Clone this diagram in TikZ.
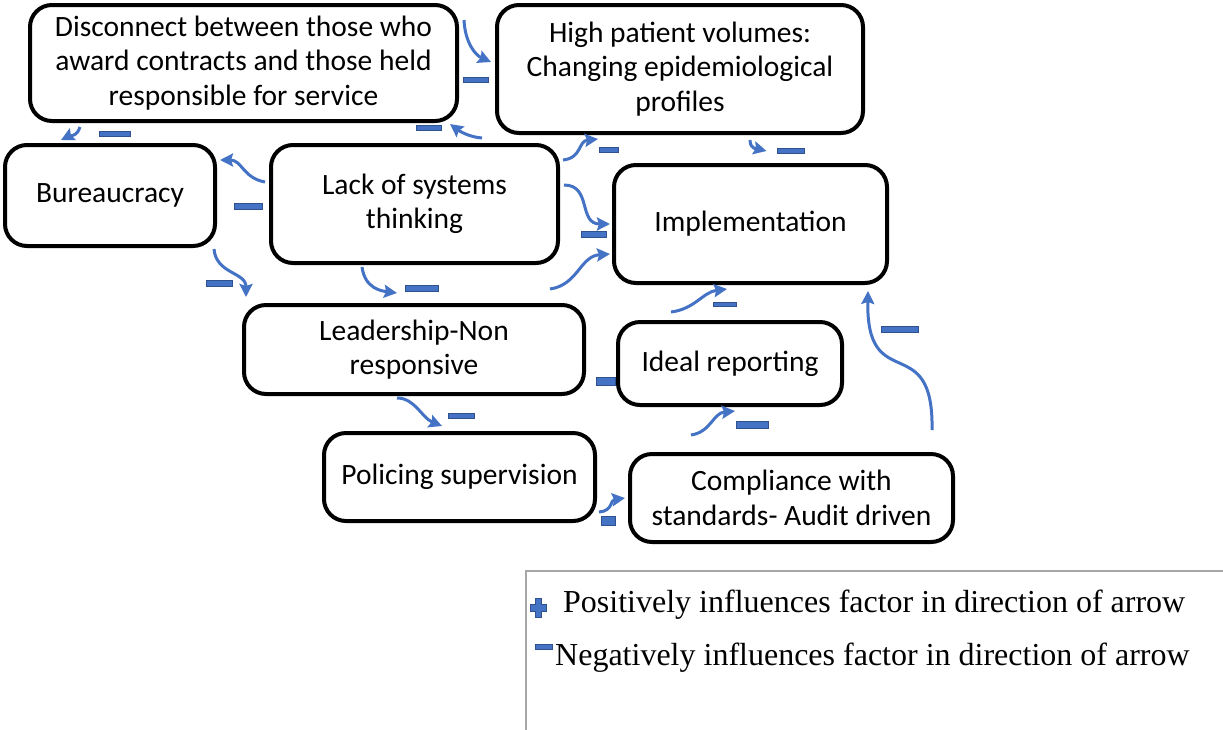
\documentclass[tikz,border=0pt]{standalone}
\usepackage{fontspec}
\setmainfont{Liberation Serif}
\newfontfamily\boxfont{Carlito}
\usetikzlibrary{arrows.meta,calc}
\definecolor{linkblue}{HTML}{4472C4}
\definecolor{barborder}{HTML}{2F528F}
\definecolor{legendgray}{HTML}{A6A6A6}
\tikzset{
  factor/.style={draw=black, line width=4pt, rounded corners=22pt, fill=white,
    align=center, inner sep=0pt, font={\boxfont\fontsize{29.5}{34.5}\selectfont}},
  link/.style={draw=linkblue, line width=3pt,
    -{Stealth[length=13pt,width=13pt,inset=2pt]}},
  minusbar/.style={draw=barborder, line width=0.6pt, fill=linkblue,
    inner sep=0pt, rectangle},
  legendtext/.style={anchor=base west, inner sep=0pt,
    font={\fontsize{32}{38}\selectfont}}
}
\begin{document}
\begin{tikzpicture}[x=1pt,y=-1pt]
\useasboundingbox (0,0) rectangle (1223,729);
\fill[white] (0,0) rectangle (1223,729);

% factors
\node[factor, minimum width=427pt, minimum height=116pt] (dis) at (243.5,63)
  {Disconnect between those who\\award contracts and those held\\responsible for service};
\node[factor, minimum width=366pt, minimum height=128pt] (hp) at (680,69)
  {High patient volumes:\\Changing epidemiological\\profiles};
\node[factor, minimum width=210pt, minimum height=101pt] (bur) at (110,195.5)
  {Bureaucracy};
\node[factor, minimum width=287pt, minimum height=118pt] (lack) at (414.5,204)
  {Lack of systems\\thinking};
\node[factor, minimum width=273pt, minimum height=118pt] (imp) at (750.5,224)
  {Implementation};
\node[factor, minimum width=340pt, minimum height=89pt] (lead) at (414,349.5)
  {Leadership-Non\\responsive};
\node[factor, minimum width=224pt, minimum height=83pt] (ideal) at (730,363.5)
  {Ideal reporting};
\node[factor, minimum width=271pt, minimum height=88pt] (pol) at (459.5,477)
  {Policing supervision};
\node[factor, minimum width=323pt, minimum height=88pt] (comp) at (791.5,498)
  {Compliance with\\standards- Audit driven};

% connectors
\draw[link] ($(dis.north east)+(5,17)$) .. controls +(1,22) and +(-16,-7) .. ($(hp.north west)+(-4,59)$);
\draw[link] ($(dis.south west)+(52,4)$) .. controls +(-3,10) and +(8,-4) .. ($(bur.north west)+(58,-3)$);
\draw[link] ($(lack.north east)+(-78,-5)$) .. controls +(-14,-1) and +(8,6) .. ($(dis.south east)+(-9,1)$);
\draw[link] ($(lack.north east)+(3,17)$) .. controls +(19,-2) and +(-20,2) .. ($(hp.south west)+(103,4)$);
\draw[link] ($(hp.south)+(70,5)$) .. controls +(0,10) and +(-8,-2) .. ($(imp.north)+(16,-12)$);
\draw[link] ($(lack.west)+(-4,-22)$) .. controls +(-22,-4) and +(22,0) .. ($(bur.east)+(3,-35.5)$);
\draw[link] ($(lack.east)+(4,-19)$) .. controls +(28,0) and +(-32,0) .. ($(imp.west)+(-2,0)$);
\draw[link] ($(lead.north east)+(-36,-14)$) .. controls +(28,-4) and +(-30,2) .. ($(imp.west)+(-2,30)$);
\draw[link] ($(bur.south east)+(-3,1)$) .. controls +(2,25) and +(0,-25) .. ($(lead.north west)+(4,-6)$);
\draw[link] ($(lack.south)+(-52.5,2)$) .. controls +(3,22) and +(-15,-2) .. ($(lead.north)+(-17,-10)$);
\draw[link] ($(lead.south)+(-17,2)$) .. controls +(18,0) and +(-20,-8) .. ($(pol.north)+(-17.5,-5)$);
\draw[link] ($(ideal.north west)+(55,-8)$) .. controls +(24,-3) and +(-24,3) .. ($(imp.south)+(-23.5,4)$);
\draw[link] ($(comp.north west)+(63,-17)$) .. controls +(20,-3) and +(-22,2) .. ($(ideal.south)+(5,4)$);
\draw[link] ($(comp.north east)+(-23,-22)$) .. controls +(2,-102) and +(-2,106) .. ($(imp.south east)+(-21,6)$);
\draw[link] ($(pol.east)+(2,35)$) .. controls +(14,-1) and +(-15,2) .. ($(comp.west)+(-3,0)$);

% minus signs
\node[minusbar, minimum width=25pt, minimum height=5pt] (ma) at (476,80) {};
\node[minusbar, minimum width=31pt, minimum height=5pt] (mb) at (115,134) {};
\node[minusbar, minimum width=25pt, minimum height=5pt] (mc) at (429,128) {};
\node[minusbar, minimum width=19pt, minimum height=5pt] (md) at (609,150) {};
\node[minusbar, minimum width=27pt, minimum height=5pt] (me) at (791,151) {};
\node[minusbar, minimum width=28pt, minimum height=6pt] (mf) at (248,206) {};
\node[minusbar, minimum width=25pt, minimum height=6pt] (mg) at (594,234) {};
\node[minusbar, minimum width=26pt, minimum height=6pt] (mi) at (219,283) {};
\node[minusbar, minimum width=33pt, minimum height=6pt] (mj) at (422,288) {};
\node[minusbar, minimum width=26pt, minimum height=5pt] (mk) at (461,416) {};
\node[minusbar, minimum width=19pt, minimum height=8pt] (ml) at (606,381) {};
\node[minusbar, minimum width=23pt, minimum height=4pt] (mm) at (725,304) {};
\node[minusbar, minimum width=32pt, minimum height=7pt] (mn) at (752,425) {};
\node[minusbar, minimum width=37pt, minimum height=6pt] (mo) at (900,329) {};
\node[minusbar, minimum width=14pt, minimum height=9pt] (mp) at (608,521) {};

% legend
\draw[legendgray, line width=2pt] (526,571) rectangle (1227,733);
\draw[draw=barborder, line width=0.6pt, fill=linkblue]
  (535,598) -- (541,598) -- (541,604.5) -- (546,604.5) -- (546,611.5) -- (541,611.5)
  -- (541,617) -- (535,617) -- (535,611.5) -- (530,611.5) -- (530,604.5) -- (535,604.5) -- cycle;
\node[minusbar, minimum width=17pt, minimum height=5pt] (legminus) at (543.5,646.5) {};
\node[legendtext] (legpos) at (563,612) {Positively influences factor in direction of arrow};
\node[legendtext] (legneg) at (555,665) {Negatively influences factor in direction of arrow};
\end{tikzpicture}
\end{document}
